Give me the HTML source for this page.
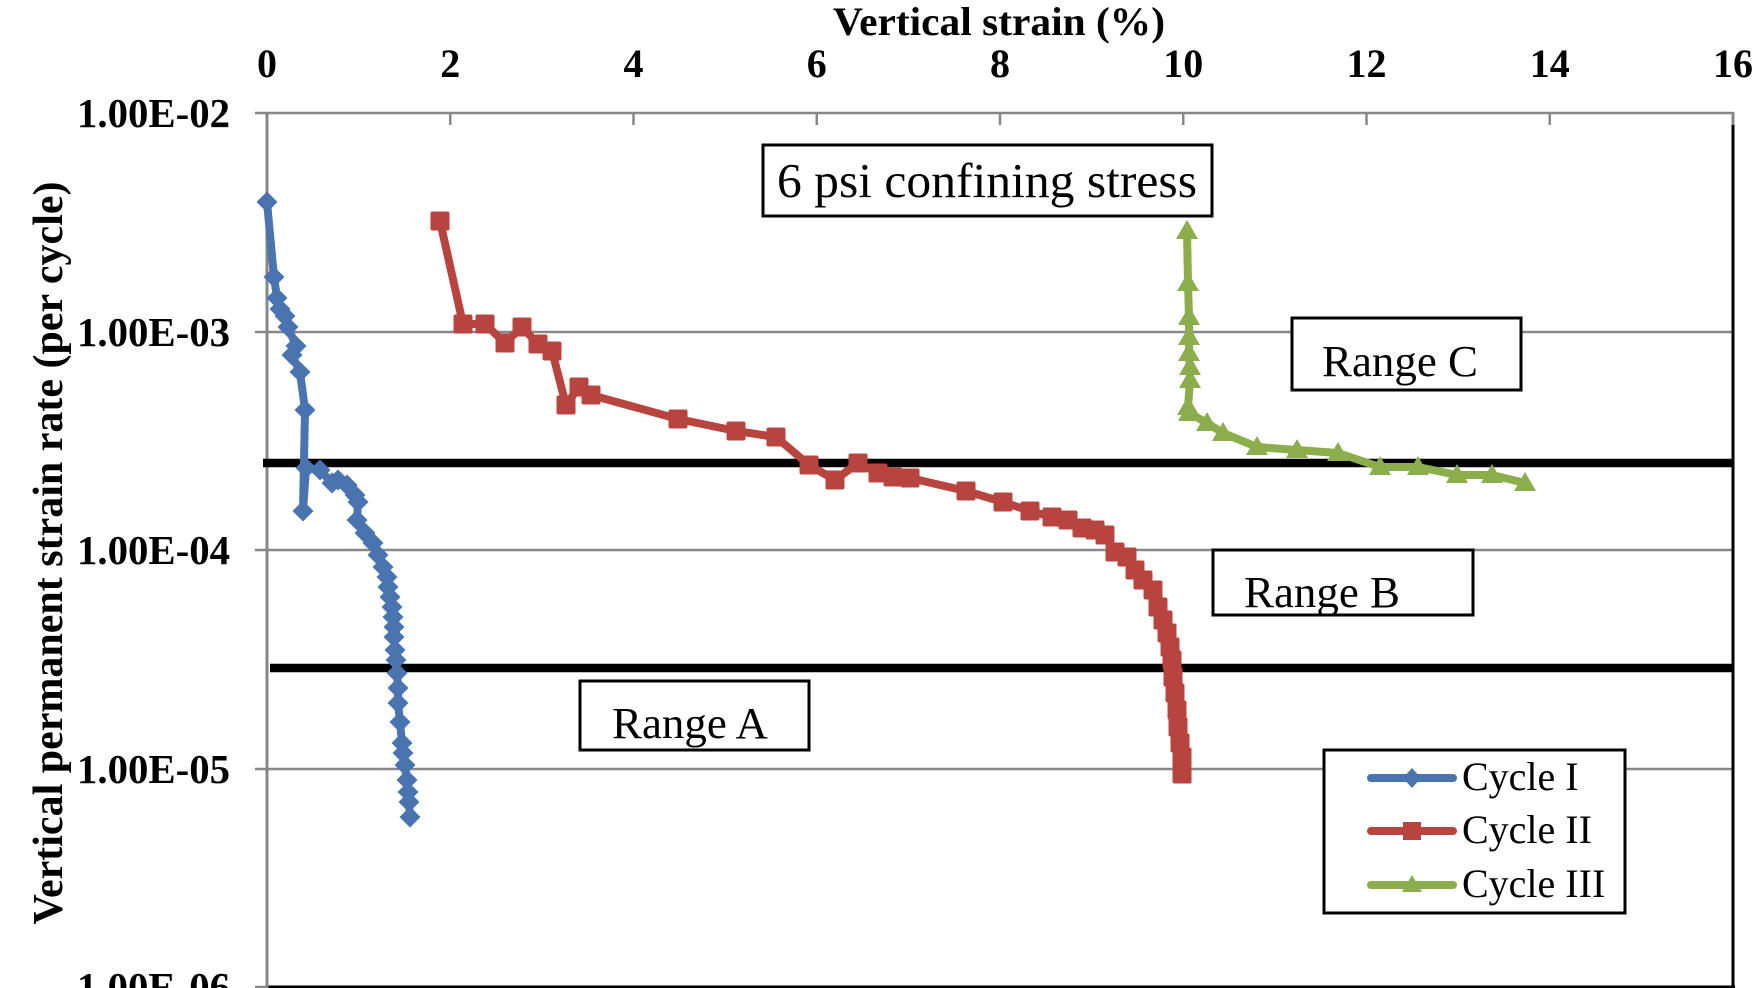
<!DOCTYPE html>
<html>
<head>
<meta charset="utf-8">
<style>
  html, body { margin: 0; padding: 0; background: #ffffff; }
  svg { display: block; }
  text { font-family: "Liberation Serif", "Times New Roman", serif; fill: #000; }
  .b { font-weight: bold; }
</style>
</head>
<body>
<svg width="1762" height="988" viewBox="0 0 1762 988" xmlns="http://www.w3.org/2000/svg">
  <defs>
    <marker id="mDia" viewBox="-12 -12 24 24" markerWidth="24" markerHeight="24" refX="0" refY="0" markerUnits="userSpaceOnUse">
      <path d="M0,-10.5 L10.5,0 L0,10.5 L-10.5,0 Z" fill="#4A74B0"/>
    </marker>
    <marker id="mSq" viewBox="-12 -12 24 24" markerWidth="24" markerHeight="24" refX="0" refY="0" markerUnits="userSpaceOnUse">
      <rect x="-9.5" y="-9.5" width="19" height="19" rx="2" fill="#B84440"/>
    </marker>
    <marker id="mTri" viewBox="-12 -12 24 24" markerWidth="24" markerHeight="24" refX="0" refY="0" markerUnits="userSpaceOnUse">
      <path d="M0,-11 L11,8 L-11,8 Z" fill="#8CAD4C"/>
    </marker>
  </defs>

  <rect x="0" y="0" width="1762" height="988" fill="#ffffff"/>

  <!-- gridlines -->
  <g stroke="#878787" stroke-width="2.5">
    <line x1="255" y1="113" x2="1733" y2="113"/>
    <line x1="255" y1="332" x2="1733" y2="332"/>
    <line x1="255" y1="550" x2="1733" y2="550"/>
    <line x1="255" y1="769" x2="1733" y2="769"/>
    <line x1="255" y1="987" x2="267" y2="987"/>
  </g>
  <!-- top axis ticks -->
  <g stroke="#878787" stroke-width="2.5">
    <line x1="450.25" y1="113" x2="450.25" y2="125"/>
    <line x1="633.5" y1="113" x2="633.5" y2="125"/>
    <line x1="816.75" y1="113" x2="816.75" y2="125"/>
    <line x1="1000" y1="113" x2="1000" y2="125"/>
    <line x1="1183.25" y1="113" x2="1183.25" y2="125"/>
    <line x1="1366.5" y1="113" x2="1366.5" y2="125"/>
    <line x1="1549.75" y1="113" x2="1549.75" y2="125"/>
  </g>
  <!-- plot border right/bottom -->
  <line x1="1733" y1="124" x2="1733" y2="988" stroke="#000" stroke-width="3"/>
  <line x1="267" y1="987" x2="1735" y2="987" stroke="#000" stroke-width="3"/>
  <!-- left axis -->
  <line x1="267" y1="112" x2="267" y2="988" stroke="#878787" stroke-width="3"/>
  <line x1="1733" y1="112" x2="1733" y2="125" stroke="#878787" stroke-width="3"/>

  <!-- title -->
  <text class="b" x="999" y="35" font-size="40" text-anchor="middle" textLength="332" lengthAdjust="spacingAndGlyphs">Vertical strain (%)</text>

  <!-- x tick labels -->
  <g font-size="40" text-anchor="middle" font-weight="bold">
    <text x="267" y="77">0</text>
    <text x="450.25" y="77">2</text>
    <text x="633.5" y="77">4</text>
    <text x="816.75" y="77">6</text>
    <text x="1000" y="77">8</text>
    <text x="1183.25" y="77">10</text>
    <text x="1366.5" y="77">12</text>
    <text x="1549.75" y="77">14</text>
    <text x="1733" y="77">16</text>
  </g>

  <!-- y tick labels -->
  <g font-size="41" font-weight="bold" text-anchor="end">
    <text x="230" y="127" textLength="153" lengthAdjust="spacingAndGlyphs">1.00E-02</text>
    <text x="230" y="346" textLength="153" lengthAdjust="spacingAndGlyphs">1.00E-03</text>
    <text x="230" y="564" textLength="153" lengthAdjust="spacingAndGlyphs">1.00E-04</text>
    <text x="230" y="783" textLength="153" lengthAdjust="spacingAndGlyphs">1.00E-05</text>
    <text x="230" y="1001" textLength="153" lengthAdjust="spacingAndGlyphs">1.00E-06</text>
  </g>

  <!-- y axis title -->
  <text transform="translate(62,553) rotate(-90)" font-size="42" font-weight="bold" text-anchor="middle" textLength="743" lengthAdjust="spacingAndGlyphs">Vertical permanent strain rate (per cycle)</text>

  <!-- range lines -->
  <line x1="263" y1="463" x2="1733" y2="463" stroke="#000" stroke-width="8.5"/>
  <line x1="270" y1="668" x2="1733" y2="668" stroke="#000" stroke-width="8.5"/>

  <!-- series -->
  <polyline fill="none" stroke="#4A74B0" stroke-width="8" stroke-linejoin="round" stroke-linecap="round"
    marker-start="url(#mDia)" marker-mid="url(#mDia)" marker-end="url(#mDia)"
    points="267,202 274,277 277,298 280,309 285,316 288,327 296,346 292,355 300,372 305,410 303,511 306,468 320,470 332,483 338,480 347,485 355,495 358,502 357,520 365,533 373,543 378,555 383,567 387,577 388,587 390,597 392,607 393,617 394,627 394,637 395,650 396,660 397,673 398,688 398,703 400,722 402,743 403,753 405,765 407,780 408,792 409,802 410,817"/>

  <polyline fill="none" stroke="#B84440" stroke-width="8" stroke-linejoin="round" stroke-linecap="round"
    marker-start="url(#mSq)" marker-mid="url(#mSq)" marker-end="url(#mSq)"
    points="440,221 463,324 485,324 505,343 522,327 538,344 552,351 566,405 579,387 591,395 678,419 736,431 776,437 809,465 835,480 858,463 878,473 893,477 910,478 966,491 1003,502 1030,511 1052,517 1068,520 1082,528 1095,530 1105,535 1115,552 1127,557 1135,570 1143,580 1153,590 1158,607 1163,620 1167,633 1170,647 1172,660 1173,677 1175,693 1177,710 1178,727 1180,743 1182,757 1182,774"/>

  <polyline fill="none" stroke="#8CAD4C" stroke-width="8" stroke-linejoin="round" stroke-linecap="round"
    marker-start="url(#mTri)" marker-mid="url(#mTri)" marker-end="url(#mTri)"
    points="1187,231 1188,283 1189,317 1189,337 1189,353 1190,367 1190,380 1188,407 1189,413 1207,423 1223,433 1257,447 1297,450 1338,453 1380,467 1418,467 1457,475 1492,475 1525,483"/>

  <!-- annotation boxes -->
  <rect x="763" y="145" width="449" height="71" fill="#fff" stroke="#000" stroke-width="3"/>
  <text x="777" y="197" font-size="49" textLength="420" lengthAdjust="spacingAndGlyphs">6 psi confining stress</text>

  <rect x="1292" y="318" width="229" height="72" fill="#fff" stroke="#000" stroke-width="3"/>
  <text x="1322" y="376" font-size="44" textLength="156" lengthAdjust="spacingAndGlyphs">Range C</text>

  <rect x="1213" y="550" width="260" height="65" fill="#fff" stroke="#000" stroke-width="3"/>
  <text x="1244" y="607" font-size="44" textLength="156" lengthAdjust="spacingAndGlyphs">Range B</text>

  <rect x="580" y="681" width="229" height="69" fill="#fff" stroke="#000" stroke-width="3"/>
  <text x="612" y="738" font-size="44" textLength="156" lengthAdjust="spacingAndGlyphs">Range A</text>

  <!-- legend -->
  <rect x="1324" y="750" width="301" height="163" fill="#fff" stroke="#000" stroke-width="3"/>
  <line x1="1371" y1="778" x2="1453" y2="778" stroke="#4A74B0" stroke-width="8" stroke-linecap="round"/>
  <path d="M1412,768 L1421,778 L1412,788 L1403,778 Z" fill="#4A74B0"/>
  <line x1="1371" y1="831" x2="1453" y2="831" stroke="#B84440" stroke-width="8" stroke-linecap="round"/>
  <rect x="1403" y="822" width="18" height="18" fill="#B84440"/>
  <line x1="1371" y1="885" x2="1453" y2="885" stroke="#8CAD4C" stroke-width="8" stroke-linecap="round"/>
  <path d="M1412,875 L1422,892 L1402,892 Z" fill="#8CAD4C"/>
  <g font-size="40">
    <text x="1462" y="790">Cycle I</text>
    <text x="1462" y="843">Cycle II</text>
    <text x="1462" y="897">Cycle III</text>
  </g>
</svg>
</body>
</html>
